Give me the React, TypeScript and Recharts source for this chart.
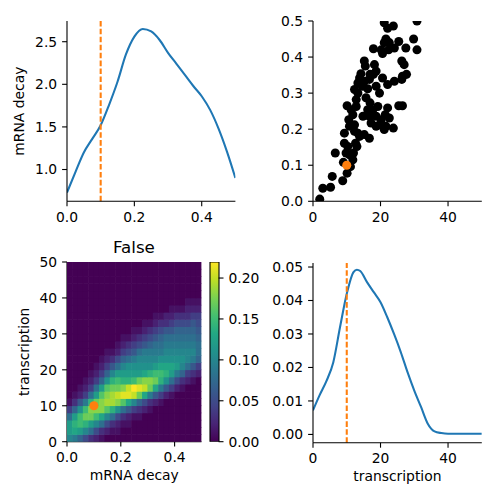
import { LineChart, Line, XAxis, YAxis, ReferenceLine, ScatterChart, Scatter, ZAxis, BarChart, Bar } from 'recharts';

// top-left: density of mRNA decay
const decayGrid = [0, 0.025, 0.05, 0.075, 0.1, 0.125, 0.15, 0.175, 0.2, 0.225, 0.25, 0.275, 0.3, 0.325, 0.35, 0.375, 0.4, 0.425, 0.45, 0.475, 0.5];
const decayDensity = [0.73, 0.97, 1.2, 1.36, 1.52, 1.76, 2.03, 2.35, 2.56, 2.65, 2.62, 2.52, 2.37, 2.24, 2.11, 1.98, 1.86, 1.7, 1.48, 1.21, 0.9];

// top-right: samples (transcription, mRNA decay)
const sampleT = [2.0, 2.9, 5.2, 5.7, 6.6, 8.8, 10.1, 9.0, 11.1, 11.8, 12.0, 9.8, 9.3, 10.3, 9.3, 12.6, 13.8, 15.2, 16.7, 13.3, 10.8, 10.6, 12.3, 10.1, 11.3, 11.8, 12.8, 13.3, 12.8, 12.3, 13.3, 14.6, 15.2, 14.2, 15.2, 15.5, 16.7, 16.2, 15.7, 16.9, 17.7, 16.7, 18.7, 19.2, 18.2, 17.9, 18.7, 17.9, 19.7, 20.2, 20.6, 21.1, 21.1, 22.1, 23.8, 21.6, 22.6, 22.4, 24.1, 25.4, 27.5, 20.6, 22.1, 24.1, 26.3, 26.5, 27.7, 26.3, 27.0, 22.1, 21.4, 22.6, 20.2, 19.7, 21.6, 21.1, 23.8, 25.4, 26.5, 29.8, 30.8, 30.8, 18.7, 17.2, 16.2, 14.8, 13.0, 10.8, 12.3, 13.8, 18.7, 16.9];
const sampleD = [0.006, 0.036, 0.039, 0.069, 0.134, 0.057, 0.078, 0.108, 0.096, 0.115, 0.134, 0.134, 0.161, 0.152, 0.189, 0.161, 0.18, 0.185, 0.175, 0.189, 0.208, 0.226, 0.212, 0.265, 0.254, 0.24, 0.282, 0.3, 0.263, 0.31, 0.328, 0.319, 0.333, 0.354, 0.389, 0.375, 0.338, 0.312, 0.287, 0.273, 0.254, 0.236, 0.236, 0.263, 0.379, 0.423, 0.361, 0.352, 0.3, 0.42, 0.41, 0.44, 0.495, 0.48, 0.486, 0.45, 0.44, 0.42, 0.425, 0.443, 0.425, 0.342, 0.324, 0.333, 0.338, 0.347, 0.352, 0.389, 0.379, 0.259, 0.24, 0.231, 0.226, 0.212, 0.208, 0.199, 0.203, 0.265, 0.265, 0.45, 0.42, 0.5, 0.208, 0.217, 0.254, 0.236, 0.152, 0.129, 0.194, 0.342, 0.319, 0.352];

// the "true" point
const truth = { decay: 0.1, transcription: 10 };

// bottom-left: joint density, cell centres and values in hundredths (bottom row first)
const cellX = [0.01, 0.03, 0.05, 0.07, 0.09, 0.11, 0.13, 0.15, 0.17, 0.19, 0.21, 0.23, 0.25, 0.27, 0.29, 0.31, 0.33, 0.35, 0.37, 0.39, 0.41, 0.43, 0.45, 0.47, 0.49];
const cellY = [1, 3, 5, 7, 9, 11, 13, 15, 17, 19, 21, 23, 25, 27, 29, 31, 33, 35, 37, 39, 41, 43, 45, 47, 49];
const jointPct = [
  [10, 9, 7, 5, 3, 2, 1, 0, 0, 0, 0, 0, 0, 0, 0, 0, 0, 0, 0, 0, 0, 0, 0, 0, 0],
  [12, 13, 12, 10, 8, 5, 3, 2, 1, 1, 0, 0, 0, 0, 0, 0, 0, 0, 0, 0, 0, 0, 0, 0, 0],
  [12, 14, 15, 14, 12, 10, 8, 5, 3, 2, 1, 1, 0, 0, 0, 0, 0, 0, 0, 0, 0, 0, 0, 0, 0],
  [8, 12, 15, 17, 17, 15, 13, 10, 8, 5, 3, 2, 1, 1, 0, 0, 0, 0, 0, 0, 0, 0, 0, 0, 0],
  [4, 7, 11, 15, 18, 18, 18, 16, 14, 11, 8, 6, 4, 3, 2, 1, 0, 0, 0, 0, 0, 0, 0, 0, 0],
  [1, 3, 6, 9, 14, 17, 18, 19, 19, 18, 16, 13, 10, 7, 5, 3, 2, 1, 0, 0, 0, 0, 0, 0, 0],
  [0, 1, 2, 4, 8, 12, 16, 18, 19, 20, 21, 21, 20, 17, 13, 9, 6, 4, 2, 1, 0, 0, 0, 0, 0],
  [0, 0, 1, 2, 4, 8, 12, 16, 17, 17, 18, 20, 22, 21, 20, 17, 13, 9, 6, 4, 2, 1, 0, 0, 0],
  [0, 0, 0, 1, 2, 4, 7, 11, 14, 15, 14, 14, 15, 17, 18, 18, 17, 14, 11, 8, 5, 3, 2, 1, 0],
  [0, 0, 0, 0, 1, 2, 4, 7, 10, 12, 12, 12, 12, 12, 13, 14, 15, 15, 14, 12, 9, 7, 4, 3, 2],
  [0, 0, 0, 0, 0, 1, 2, 4, 6, 8, 10, 11, 11, 11, 11, 11, 12, 13, 13, 13, 12, 10, 8, 6, 4],
  [0, 0, 0, 0, 0, 0, 1, 2, 3, 5, 7, 8, 9, 10, 10, 10, 10, 11, 11, 11, 11, 11, 10, 9, 7],
  [0, 0, 0, 0, 0, 0, 0, 1, 1, 2, 4, 5, 6, 8, 9, 9, 9, 9, 10, 10, 10, 10, 10, 10, 8],
  [0, 0, 0, 0, 0, 0, 0, 0, 0, 1, 2, 3, 4, 5, 6, 7, 8, 8, 9, 9, 9, 9, 9, 9, 8],
  [0, 0, 0, 0, 0, 0, 0, 0, 0, 0, 1, 1, 2, 3, 4, 5, 6, 7, 8, 8, 8, 8, 8, 8, 7],
  [0, 0, 0, 0, 0, 0, 0, 0, 0, 0, 0, 0, 1, 1, 2, 3, 4, 5, 6, 6, 7, 7, 7, 7, 6],
  [0, 0, 0, 0, 0, 0, 0, 0, 0, 0, 0, 0, 0, 0, 1, 1, 2, 3, 3, 4, 5, 5, 5, 6, 5],
  [0, 0, 0, 0, 0, 0, 0, 0, 0, 0, 0, 0, 0, 0, 0, 0, 1, 1, 2, 2, 3, 3, 3, 4, 4],
  [0, 0, 0, 0, 0, 0, 0, 0, 0, 0, 0, 0, 0, 0, 0, 0, 0, 0, 0, 1, 1, 1, 2, 2, 2],
  [0, 0, 0, 0, 0, 0, 0, 0, 0, 0, 0, 0, 0, 0, 0, 0, 0, 0, 0, 0, 0, 0, 1, 1, 1],
  [0, 0, 0, 0, 0, 0, 0, 0, 0, 0, 0, 0, 0, 0, 0, 0, 0, 0, 0, 0, 0, 0, 0, 0, 0],
  [0, 0, 0, 0, 0, 0, 0, 0, 0, 0, 0, 0, 0, 0, 0, 0, 0, 0, 0, 0, 0, 0, 0, 0, 0],
  [0, 0, 0, 0, 0, 0, 0, 0, 0, 0, 0, 0, 0, 0, 0, 0, 0, 0, 0, 0, 0, 0, 0, 0, 0],
  [0, 0, 0, 0, 0, 0, 0, 0, 0, 0, 0, 0, 0, 0, 0, 0, 0, 0, 0, 0, 0, 0, 0, 0, 0],
  [0, 0, 0, 0, 0, 0, 0, 0, 0, 0, 0, 0, 0, 0, 0, 0, 0, 0, 0, 0, 0, 0, 0, 0, 0],
];
const colorMax = 0.2196;

// bottom-right: density of transcription
const transGrid = [0, 2, 4, 6, 8, 10, 12, 13, 14, 16, 18, 20, 22, 24, 26, 28, 30, 32, 34, 36, 38, 40, 45, 50];
const transDensity = [0.0072, 0.0118, 0.016, 0.0215, 0.032, 0.042, 0.0485, 0.0492, 0.0488, 0.0455, 0.0425, 0.0395, 0.035, 0.03, 0.0246, 0.0186, 0.0131, 0.0082, 0.0032, 0.0009, 0.0004, 0.0002, 0.0002, 0.0002];

const decayTicks = [0, 0.2, 0.4];
const decayDensityTicks = [1.0, 1.5, 2.0, 2.5];
const transTicks = [0, 20, 40];
const sampleDecayTicks = [0, 0.1, 0.2, 0.3, 0.4, 0.5];
const transAxisTicks = [0, 10, 20, 30, 40, 50];
const transDensityTicks = [0, 0.01, 0.02, 0.03, 0.04, 0.05];
const colorTicks = [0, 0.05, 0.1, 0.15, 0.2];

const VIRIDIS = ['#440154', '#482475', '#414487', '#355f8d', '#2a788e', '#21918c', '#22a884', '#44bf70', '#7ad151', '#bddf26', '#fde725'];
const BLUE = '#1f77b4';
const ORANGE = '#ff7f0e';
const FONT = 'DejaVu Sans';
const FS = 13.9;

const tick = { fill: '#000', fontSize: FS, fontFamily: FONT };
const axisLine = { stroke: '#000', strokeWidth: 1.1 };
const tickLine = { stroke: '#000', strokeWidth: 1.1 };
const labelStyle = { fill: '#000', fontSize: FS, fontFamily: FONT };

function hex(c: string) {
  return [1, 3, 5].map((i) => parseInt(c.slice(i, i + 2), 16));
}

function viridis(t: number) {
  const s = Math.max(0, Math.min(1, t)) * (VIRIDIS.length - 1);
  const i = Math.min(Math.floor(s), VIRIDIS.length - 2);
  const f = s - i;
  const a = hex(VIRIDIS[i]);
  const b = hex(VIRIDIS[i + 1]);
  const m = a.map((v, k) => Math.round(v + (b[k] - v) * f));
  return `rgb(${m[0]},${m[1]},${m[2]})`;
}

// place a chart so that its plot area lands on (px, py, pw, ph) of the page
function frame(px: number, py: number, pw: number, ph: number) {
  return {
    style: { position: 'absolute' as const, left: px - 60, top: py - 20 },
    width: pw + 80,
    height: ph + 70,
  };
}
const MARGIN = { top: 20, right: 20, bottom: 0, left: 0 };

const decayData = decayGrid.map((x, i) => ({ x, y: decayDensity[i] }));
const transData = transGrid.map((x, i) => ({ x, y: transDensity[i] }));
const sampleData = sampleT.map((t, i) => ({ x: t, y: sampleD[i] }));
const cells = jointPct.flatMap((row, j) => row.map((v, i) => ({ x: cellX[i], y: cellY[j], v: v / 100 })));

const HEAT = { px: 66.7, py: 262.3, pw: 134.5, ph: 179.7 };
const cellW = HEAT.pw / cellX.length + 0.6;
const cellH = HEAT.ph / cellY.length + 0.6;

const Cell = (props: any) => {
  const { cx, cy, payload } = props;
  return <rect x={cx - cellW / 2} y={cy - cellH / 2} width={cellW} height={cellH} fill={viridis(payload.v / colorMax)} />;
};

function DecayPanel() {
  const f = frame(66.7, 21, 168.4, 180.3);
  return (
    <div style={f.style}>
      <LineChart width={f.width} height={f.height} data={decayData} margin={MARGIN}>
        <XAxis type="number" dataKey="x" domain={[0, 0.5]} ticks={decayTicks} interval={0} allowDataOverflow
          tickFormatter={(v) => v.toFixed(1)} height={50} tick={tick} axisLine={axisLine} tickLine={tickLine} tickSize={4.9} tickMargin={5.5} />
        <YAxis type="number" domain={[0.627, 2.743]} ticks={decayDensityTicks} interval={0} allowDataOverflow
          tickFormatter={(v) => v.toFixed(1)} width={60} tick={tick} axisLine={axisLine} tickLine={tickLine} tickSize={4.9} tickMargin={4.9}
          label={{ value: 'mRNA decay', angle: -90, position: 'insideLeft', offset: 12, ...labelStyle, style: { textAnchor: 'middle' } }} />
        <Line type="monotone" dataKey="y" stroke={BLUE} strokeWidth={2.08} dot={false} isAnimationActive={false} />
        <ReferenceLine x={truth.decay} stroke={ORANGE} strokeWidth={2.08} strokeDasharray="5.55 2.4" />
      </LineChart>
    </div>
  );
}

function SamplePanel() {
  const f = frame(313.3, 21, 168.8, 180.3);
  return (
    <div style={f.style}>
      <ScatterChart width={f.width} height={f.height} margin={MARGIN}>
        <XAxis type="number" dataKey="x" domain={[0, 50]} ticks={transTicks} interval={0} allowDataOverflow
          height={50} tick={tick} axisLine={axisLine} tickLine={tickLine} tickSize={4.9} tickMargin={5.5} />
        <YAxis type="number" dataKey="y" domain={[0, 0.5]} ticks={sampleDecayTicks} interval={0} allowDataOverflow
          tickFormatter={(v) => v.toFixed(1)} width={60} tick={tick} axisLine={axisLine} tickLine={tickLine} tickSize={4.9} tickMargin={4.9} />
        <ZAxis range={[55, 55]} />
        <Scatter data={sampleData} fill="#000" isAnimationActive={false} />
        <Scatter data={[{ x: truth.transcription, y: truth.decay }]} fill={ORANGE} isAnimationActive={false} />
      </ScatterChart>
    </div>
  );
}

function JointPanel() {
  const f = frame(HEAT.px, HEAT.py, HEAT.pw, HEAT.ph);
  return (
    <div style={f.style}>
      <ScatterChart width={f.width} height={f.height} margin={MARGIN}>
        <XAxis type="number" dataKey="x" domain={[0, 0.5]} ticks={decayTicks} interval={0} allowDataOverflow
          tickFormatter={(v) => v.toFixed(1)} height={50} tick={tick} axisLine={axisLine} tickLine={tickLine} tickSize={4.9} tickMargin={5.5}
          label={{ value: 'mRNA decay', position: 'insideBottom', offset: 12, ...labelStyle }} />
        <YAxis type="number" dataKey="y" domain={[0, 50]} ticks={transAxisTicks} interval={0} allowDataOverflow
          width={60} tick={tick} axisLine={axisLine} tickLine={tickLine} tickSize={4.9} tickMargin={4.9}
          label={{ value: 'transcription', angle: -90, position: 'insideLeft', offset: 17, ...labelStyle, style: { textAnchor: 'middle' } }} />
        <ZAxis range={[69, 69]} />
        <Scatter data={cells} shape={Cell} isAnimationActive={false} />
        <Scatter data={[{ x: truth.decay, y: truth.transcription }]} fill={ORANGE} isAnimationActive={false} />
      </ScatterChart>
    </div>
  );
}

function ColorBar() {
  const px = 209.7, py = HEAT.py, pw = 8.6, ph = HEAT.ph;
  return (
    <div style={{ position: 'absolute', left: px - 20, top: py - 20 }}>
      <BarChart width={pw + 80} height={ph + 40} data={[{ k: 'cb', v: colorMax }]} margin={{ top: 20, right: 0, bottom: 20, left: 20 }} barCategoryGap={0}>
        <defs>
          <linearGradient id="viridis" x1="0" y1="1" x2="0" y2="0">
            {VIRIDIS.map((c, i) => (
              <stop key={c} offset={i / (VIRIDIS.length - 1)} stopColor={c} />
            ))}
          </linearGradient>
        </defs>
        <XAxis dataKey="k" hide />
        <YAxis orientation="right" type="number" domain={[0, colorMax]} ticks={colorTicks} interval={0} allowDataOverflow
          tickFormatter={(v) => v.toFixed(2)} width={60} tick={tick} axisLine={false} tickLine={tickLine} tickSize={4.9} tickMargin={4.9} />
        <Bar dataKey="v" fill="url(#viridis)" stroke="#000" strokeWidth={1.1} isAnimationActive={false} />
      </BarChart>
    </div>
  );
}

function TransPanel() {
  const f = frame(313.3, 262.5, 168.8, 179.8);
  return (
    <div style={f.style}>
      <LineChart width={f.width} height={f.height} data={transData} margin={MARGIN}>
        <XAxis type="number" dataKey="x" domain={[0, 50]} ticks={transTicks} interval={0} allowDataOverflow
          height={50} tick={tick} axisLine={axisLine} tickLine={tickLine} tickSize={4.9} tickMargin={5.5}
          label={{ value: 'transcription', position: 'insideBottom', offset: 12, ...labelStyle }} />
        <YAxis type="number" domain={[-0.0025, 0.0512]} ticks={transDensityTicks} interval={0} allowDataOverflow
          tickFormatter={(v) => v.toFixed(2)} width={60} tick={tick} axisLine={axisLine} tickLine={tickLine} tickSize={4.9} tickMargin={4.9} />
        <Line type="monotone" dataKey="y" stroke={BLUE} strokeWidth={2.08} dot={false} isAnimationActive={false} />
        <ReferenceLine x={truth.transcription} stroke={ORANGE} strokeWidth={2.08} strokeDasharray="5.55 2.4" />
      </LineChart>
    </div>
  );
}

export default function App() {
  return (
    <div style={{ position: 'absolute', left: 0, top: 0, width: 500, height: 500, background: '#fff', fontFamily: FONT }}>
      <DecayPanel />
      <SamplePanel />
      <JointPanel />
      <ColorBar />
      <TransPanel />
      <svg width={500} height={500} style={{ position: 'absolute', left: 0, top: 0, pointerEvents: 'none' }}>
        <text x={133.9} y={252.7} textAnchor="middle" fontFamily={FONT} fontSize={16.7} fill="#000">False</text>
      </svg>
    </div>
  );
}
